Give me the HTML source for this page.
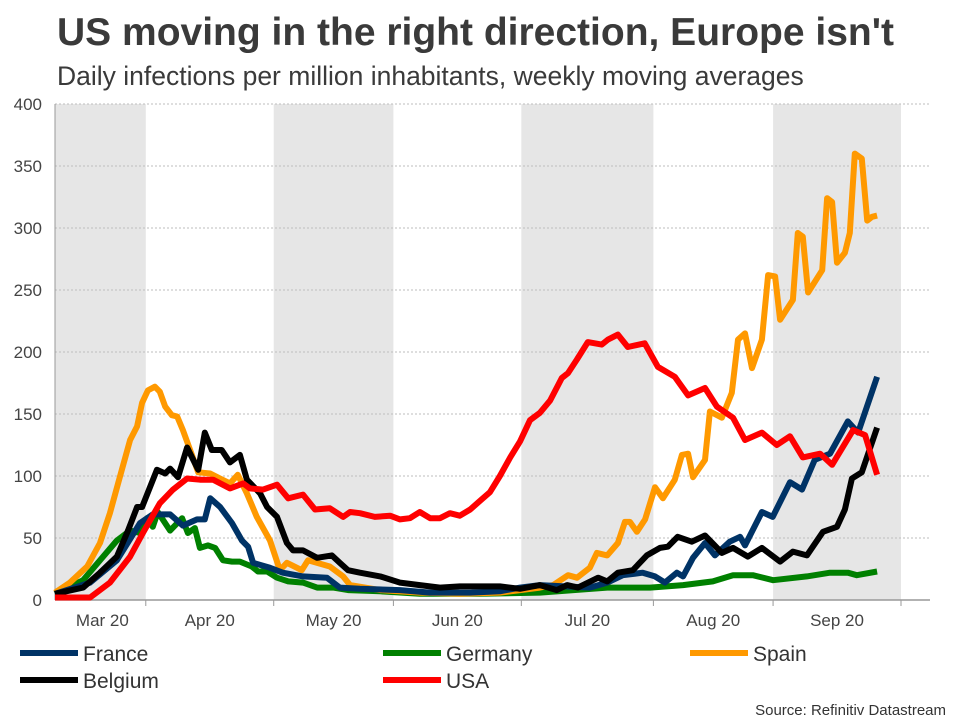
<!DOCTYPE html>
<html><head><meta charset="utf-8"><style>
body{margin:0;background:#fff;font-family:"Liberation Sans",Arial,sans-serif;}
svg text{font-family:"Liberation Sans",Arial,sans-serif;}
</style></head><body>
<svg id="chart" width="960" height="720">
<text x="57" y="45" font-size="39" font-weight="bold" fill="#3a3a3a">US moving in the right direction, Europe isn't</text>
<text x="57" y="85" font-size="26.5" fill="#3a3a3a">Daily infections per million inhabitants, weekly moving averages</text>
<g id="bands"></g><g id="grid"></g><g id="axes"></g><g id="series"></g><g id="legend"></g>
<text x="946" y="715" font-size="15" fill="#333" text-anchor="end">Source: Refinitiv Datastream</text>
</svg>
<script>
const yTicks=[0,50,100,150,200,250,300,350,400];
const monthLabels=["Mar 20","Apr 20","May 20","Jun 20","Jul 20","Aug 20","Sep 20"];
const monthStarts=[-9,22,53,82,113,145,174,205];
const franceDays=[0,8.5,15,20.6,23.7,27.9,31,34.4,36.3,37.6,40,42.9,45.3,46.8,48,52.1,55.2,60.1,65.9,69,73.9,83.6,90.9,100.6,107.8,112.7,117.5,129.6,133.8,137.6,142.4,145.4,147.8,150.7,152.2,154.6,157.5,159.9,163.5,166,167.2,171.3,173.9,178.1,181,184.1,187.8,192.1,194.6,199.2];
const franceVals=[5,14,32,62,69,69,60,65,65,82,75,62,48,43,30,26,22,19,18,10,9,8,6,6,7,10,12,10,14,20,22,19,14,22,19,34,46,36,47,51,44,71,67,95,89,113,118,144,135,180];
const germanyDays=[0,6.8,10.9,15,18.2,20.6,22.3,23.7,24.9,27.9,30.8,32.2,33.9,35.1,37.1,38.8,40.7,42.9,44.8,47.7,49.2,51.4,53.8,56.5,60.1,63.5,67.4,71,78.8,88.4,103,117.5,133.8,144.2,152.2,159.4,164.3,169.1,174,182.2,187.8,192.1,194.3,199.2];
const germanyVals=[5,16,32,48,56,54,66,59,71,56,66,54,58,42,44,42,32,31,31,27,23,23,18,15,14,10,10,8,7,5,5,6,10,10,12,15,20,20,16,19,22,22,20,23];
const spainDays=[0,3.6,7.8,10.9,13.3,15.7,18.2,19.9,21.1,22.5,24.2,25.4,26.7,28.3,29.6,31,33.4,34.7,37.6,40,42.4,44.3,46.5,48.9,52.1,54.5,56.2,59.8,61.3,66.6,69.8,71.5,78.8,88.4,98.1,107.8,112.7,117.5,120.7,124.3,126.5,129.6,131.3,133.8,136.4,138.1,139.3,141,143,145.4,147.3,150.2,151.9,153.4,154.6,157.5,158.7,161.6,164,165.5,167.2,168.9,171.3,172.8,174.5,175.7,178.8,180,181.2,182.5,185.9,187.1,188.3,189.5,191.4,192.6,193.8,195.5,196.8,198,199.2];
const spainVals=[6,14,27,46,70,99,129,140,159,169,172,168,156,149,148,137,115,103,102,98,94,101,86,67,48,24,30,24,32,27,19,12,8,6,5,6,8,10,12,20,18,26,38,36,46,63,63,55,65,91,82,97,117,118,99,113,152,147,167,210,215,187,210,262,261,226,242,296,293,248,266,324,321,272,280,296,360,356,306,309,310];
const belgiumDays=[0,6.8,10.9,15,17.7,19.9,21.1,24.7,26.7,27.9,29.8,32,34.7,36.3,38,40.4,42.4,44.8,46.5,49.7,51.4,53.8,56.2,57.7,60.1,63.5,67.1,69,71,73.9,78.8,83.6,88.4,93.3,98.1,103,107.8,112.7,117.5,121.6,124.1,126.7,131.6,133.8,136.4,140,143.4,146.6,148.5,150.9,154.3,157.5,161.6,164.3,167.9,171.3,175.7,178.8,182.2,186.1,189.5,191.4,193.1,195.5,199.2];
const belgiumVals=[5,10,22,35,56,75,75,105,102,106,99,123,105,135,121,121,111,117,97,86,75,67,46,40,40,34,36,30,24,22,19,14,12,10,11,11,11,9,12,8,12,10,18,15,22,24,36,42,43,51,47,52,38,42,35,42,31,39,36,55,59,73,98,103,139];
const usaDays=[0,8.5,13.3,18.2,21.3,25.4,28.6,32,35.1,38.3,42.4,45.6,47.2,50.4,53.8,56.5,60.1,63,66.6,69.8,71.5,73.9,77.5,81.2,83.6,86,88.4,90.9,93.3,95.7,98.1,100.6,103,105.4,107.8,110.3,112.7,115.1,117.5,120,122.8,124.3,126.5,129.1,132.5,134,136.4,138.8,142.9,146.1,150.2,153.4,157.5,160.4,164.3,167.2,171.3,174.9,178.1,181.2,185.4,188.3,193.4,196.3,199.2];
const usaVals=[2,2,14,35,54,78,89,98,97,97,90,94,90,89,93,82,85,73,74,67,71,70,67,68,65,66,71,66,66,70,68,73,80,87,100,115,128,145,151,161,179,183,194,208,206,210,214,204,207,188,180,165,171,156,147,129,135,125,132,115,118,109,137,133,101];

const NS="http://www.w3.org/2000/svg";
const X0=55,X1=901,Y0=600,Y1=104,DMIN=0,DMAX=205;
function xs(d){return X0+(d-DMIN)/(DMAX-DMIN)*(X1-X0);}
function ys(v){return Y0-v/400*(Y0-Y1);}
function mk(tag,attrs,parent){const e=document.createElementNS(NS,tag);for(const k in attrs)e.setAttribute(k,attrs[k]);parent.appendChild(e);return e;}
const bands=document.getElementById('bands'),grid=document.getElementById('grid'),axes=document.getElementById('axes'),series=document.getElementById('series'),legend=document.getElementById('legend');
for(let i=0;i<monthLabels.length;i+=2){
  const a=Math.max(xs(monthStarts[i]),X0),b=xs(monthStarts[i+1]);
  const r=mk('rect',{x:a,y:Y1,width:b-a,height:Y0-Y1,fill:'#e6e6e6'},bands);
  
  
}
yTicks.forEach(t=>{
  if(t>0){const l=mk('line',{x1:X0,x2:930,y1:ys(t),y2:ys(t),stroke:'#bdbdbd','stroke-dasharray':'2,2','stroke-width':1},grid);
  
  }
  const tx=mk('text',{x:42,y:ys(t)+6,'font-size':17,fill:'#444','text-anchor':'end'},axes);
  tx.textContent=t;
  
  
});
const yl=mk('line',{x1:X0,x2:X0,y1:Y1,y2:Y0,stroke:'#999','stroke-width':1},axes);


const xl=mk('line',{x1:X0,x2:930,y1:Y0,y2:Y0,stroke:'#999','stroke-width':1.5},axes);


for(let i=1;i<monthStarts.length;i++){
  const t=mk('line',{x1:xs(monthStarts[i]),x2:xs(monthStarts[i]),y1:Y0,y2:Y0+6,stroke:'#999'},axes);
  
  
}
monthLabels.forEach((m,i)=>{
  const c=i===0?(X0+xs(monthStarts[1]))/2+2:(xs(monthStarts[i])+xs(monthStarts[i+1]))/2;
  const tx=mk('text',{x:c,y:626,'font-size':17,fill:'#444','text-anchor':'middle'},axes);
  tx.textContent=m;
  
  
});
const defs=[["germany",germanyDays,germanyVals,"#008000"],["spain",spainDays,spainVals,"#ff9900"],["france",franceDays,franceVals,"#003366"],["belgium",belgiumDays,belgiumVals,"#000000"],["usa",usaDays,usaVals,"#ff0000"]];
defs.forEach(([n,ds,vs,c])=>{
  const p=mk('polyline',{points:ds.map((d,i)=>xs(d).toFixed(1)+','+ys(vs[i]).toFixed(1)).join(' '),fill:'none',stroke:c,'stroke-width':6,'stroke-linejoin':'round'},series);
  
  
});
const leg=[["France","#003366",20,653],["Germany","#008000",383,653],["Spain","#ff9900",690,653],["Belgium","#000000",20,680],["USA","#ff0000",383,680]];
leg.forEach(([n,c,x,y])=>{
  const g=mk('g',{},legend);
  
  
  mk('line',{x1:x,x2:x+58,y1:y,y2:y,stroke:c,'stroke-width':6},g);
  const t=mk('text',{x:x+63,y:y+8,'font-size':21,fill:'#333'},g);
  t.textContent=n;
});
</script>
</body></html>
